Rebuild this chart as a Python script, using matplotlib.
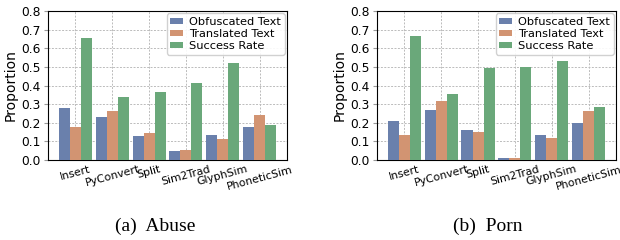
import numpy as np
import matplotlib
matplotlib.use("Agg")
import matplotlib.pyplot as plt

methods = ["Insert", "PyConvert", "Split", "Sim2Trad", "GlyphSim", "PhoneticSim"]
series_names = ["Obfuscated Text", "Translated Text", "Success Rate"]

abuse_obfuscated = [0.282, 0.229, 0.130, 0.050, 0.136, 0.175]
abuse_translated = [0.175, 0.266, 0.146, 0.055, 0.114, 0.243]
abuse_success = [0.655, 0.339, 0.366, 0.416, 0.521, 0.189]

porn_obfuscated = [0.211, 0.270, 0.163, 0.0125, 0.136, 0.200]
porn_translated = [0.132, 0.318, 0.152, 0.0125, 0.121, 0.266]
porn_success = [0.668, 0.355, 0.496, 0.502, 0.534, 0.286]

colors = ["#6a80ac", "#d29472", "#6aa87a"]
captions = ["(a)  Abuse", "(b)  Porn"]


def draw_panel(ax, data):
    x = np.arange(len(methods))
    w = 0.3
    for i, (vals, name) in enumerate(zip(data, series_names)):
        ax.bar(x + (i - 1) * w, vals, w, color=colors[i], label=name, zorder=3)
    ax.set_ylim(0, 0.8)
    ax.set_yticks(np.arange(0, 0.81, 0.1))
    ax.set_xticks(x)
    ax.set_xticklabels(methods, rotation=15, fontsize=7.8)
    ax.tick_params(axis="y", labelsize=8.8, length=3, pad=2, color="#999999")
    ax.tick_params(axis="x", length=0, pad=3)
    ax.set_ylabel("Proportion", fontsize=10, labelpad=3)
    ax.grid(True, linestyle=(0, (2, 1.5)), color="#bbbbbb", linewidth=0.7, zorder=0)
    ax.set_axisbelow(True)
    ax.legend(loc="upper right", fontsize=8.2, handlelength=1.1, handleheight=0.4,
              labelspacing=0.2, borderpad=0.3, handletextpad=0.6,
              borderaxespad=0.2, framealpha=0.9)


fig = plt.figure(figsize=(6.2, 2.4), dpi=100)
ax1 = fig.add_axes([0.0774, 0.333, 0.3855, 0.621])
ax2 = fig.add_axes([0.608, 0.333, 0.3855, 0.621])
draw_panel(ax1, [abuse_obfuscated, abuse_translated, abuse_success])
draw_panel(ax2, [porn_obfuscated, porn_translated, porn_success])

fig.text(0.25, 0.058, captions[0], ha="center", va="center",
         fontsize=14, family="Liberation Serif")
fig.text(0.787, 0.058, captions[1], ha="center", va="center",
         fontsize=14, family="Liberation Serif")

fig.savefig("out.png", dpi=100)
